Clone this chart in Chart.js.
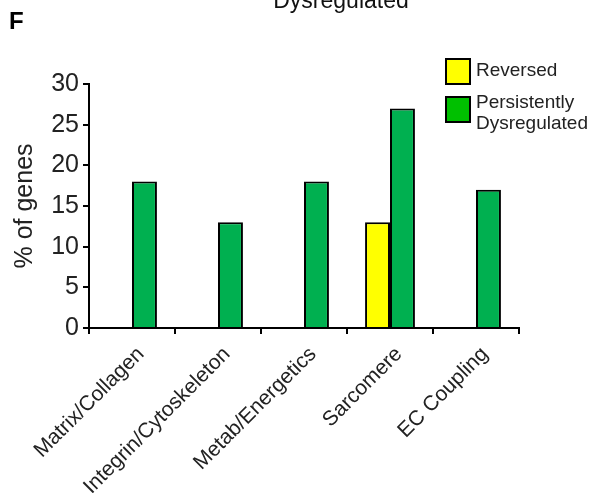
<!DOCTYPE html>
<html>
<head>
<meta charset="utf-8">
<script src="https://cdn.jsdelivr.net/npm/chart.js@4/dist/chart.umd.min.js"></script>
<style>
  html, body { margin: 0; padding: 0; background: #fff; }
  #wrap { width: 592px; height: 493px; position: relative; }
</style>
</head>
<body>
<div id="wrap"><canvas id="c" width="592" height="493"></canvas></div>
<script>
// Gene categories and percentages per group
const categories = ['Matrix/Collagen', 'Integrin/Cytoskeleton', 'Metab/Energetics', 'Sarcomere', 'EC Coupling'];
const reversed = [0, 0, 0, 13, 0];
const persistent = [18, 13, 18, 27, 17];
const seriesNames = ['Reversed', ['Persistently', 'Dysregulated']];
const yTicks = [0, 5, 10, 15, 20, 25, 30];

const FONT = '"Liberation Sans", Arial, sans-serif';

// Panel letter, clipped heading and the two-line legend
const decorations = {
  id: 'decorations',
  afterDraw(chart) {
    const ctx = chart.ctx;
    ctx.save();
    ctx.fillStyle = '#000';
    ctx.font = 'bold 24px ' + FONT;
    ctx.textAlign = 'left';
    ctx.textBaseline = 'alphabetic';
    ctx.fillText('F', 9, 29);

    ctx.fillStyle = '#111';
    ctx.font = '23px ' + FONT;
    ctx.textAlign = 'center';
    ctx.fillText('Dysregulated', 341, 8);

    const legendColors = ['#FFFF00', '#00C000'];
    const boxes = [59, 97];
    const baselines = [[76], [108, 129]];
    ctx.font = '19px ' + FONT;
    ctx.textAlign = 'left';
    seriesNames.forEach((name, i) => {
      const y = boxes[i];
      ctx.fillStyle = legendColors[i];
      ctx.fillRect(446, y, 24, 25);
      ctx.lineWidth = 2;
      ctx.strokeStyle = '#000';
      ctx.strokeRect(446, y, 24, 25);
      ctx.fillStyle = '#222';
      const lines = Array.isArray(name) ? name : [name];
      lines.forEach((t, k) => ctx.fillText(t, 476, baselines[i][k]));
    });
    ctx.restore();
  }
};

new Chart(document.getElementById('c'), {
  type: 'bar',
  data: {
    labels: categories,
    datasets: [
      { label: 'Reversed', data: reversed, backgroundColor: '#FFFF00', borderColor: '#000', borderWidth: 2, borderSkipped: 'bottom' },
      { label: 'Persistently Dysregulated', data: persistent, backgroundColor: '#00B050', borderColor: '#000', borderWidth: 2, borderSkipped: 'bottom' }
    ]
  },
  options: {
    responsive: false,
    animation: false,
    layout: { padding: { top: 84, right: 73, left: 0, bottom: 0 } },
    plugins: {
      legend: { display: false },
      tooltip: { enabled: false }
    },
    datasets: { bar: { barPercentage: 1.0, categoryPercentage: 0.58 } },
    scales: {
      x: {
        offset: true,
        grid: { display: true, offset: true, drawOnChartArea: false, drawTicks: true, tickLength: 6, color: '#000', lineWidth: 2 },
        border: { display: true, color: '#000', width: 2 },
        ticks: {
          color: '#222',
          font: { family: FONT, size: 21 },
          maxRotation: 45, minRotation: 45,
          labelOffset: 9,
          padding: 8
        },
        afterFit(scale) { scale.height = 165; }
      },
      y: {
        min: 0, max: 30,
        afterBuildTicks(scale) { scale.ticks = yTicks.map(v => ({ value: v })); },
        grid: { display: true, drawOnChartArea: false, drawTicks: true, tickLength: 6, color: '#000', lineWidth: 2 },
        border: { display: true, color: '#000', width: 2 },
        ticks: { color: '#222', font: { family: FONT, size: 25 }, padding: 4 },
        title: { display: true, text: '% of genes', color: '#222', font: { family: FONT, size: 25 }, padding: { top: 10, bottom: 4 } },
        afterFit(scale) { scale.width = 89; }
      }
    }
  },
  plugins: [decorations]
});
</script>
</body>
</html>
